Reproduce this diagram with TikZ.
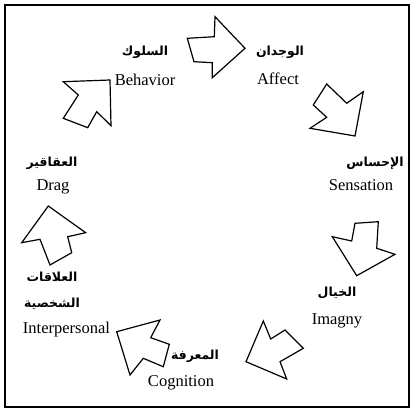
\documentclass[tikz,border=0pt]{standalone}
\usepackage{fontspec}
\setmainfont{Liberation Serif}
\newfontfamily\arabicfont[Script=Arabic]{DejaVu Sans}
\TeXXeTstate=1
\begin{document}
\begin{tikzpicture}[x=1pt,y=-1pt,
  arr/.style={draw=black,line width=1.2pt,line join=miter,fill=white},
  en/.style={font=\fontsize{16.5}{17}\selectfont,inner sep=0pt},
  ar/.style={font=\arabicfont\bfseries\fontsize{12.5}{13}\selectfont,inner sep=0pt}]
\useasboundingbox (0,0) rectangle (410,409);
\draw[line width=1.2pt] (5,5) -- (409,5) -- (409,407) -- (5,407) -- cycle;
% arrows
\draw[arr] (187.3,38.3) -- (214.3,36.7) -- (215,16.7) -- (245,48.3) -- (212.3,77.7) -- (212.3,62.7) -- (194,61.7) -- cycle;
\draw[arr] (326.7,84) -- (346.7,103.3) -- (363.3,91.7) -- (355,136) -- (310,128.3) -- (326.7,117.3) -- (313.3,105) -- cycle;
\draw[arr] (355,223.3) -- (378.3,221.7) -- (376.7,248.3) -- (395,254.3) -- (356.7,275.7) -- (332.3,236.7) -- (351.7,241) -- cycle;
\draw[arr] (285,330) -- (303.3,348.3) -- (280,361.7) -- (286.7,379) -- (246,361.7) -- (263.3,321) -- (270.7,339) -- cycle;
\draw[arr] (116.7,331.7) -- (160,320) -- (150.7,337.7) -- (169.3,344.3) -- (163.3,366.7) -- (143.3,358.3) -- (130,375) -- cycle;
\draw[arr] (48.3,206) -- (85.7,232.7) -- (67.7,236.7) -- (71.7,252.7) -- (50,265) -- (40,239.3) -- (21.7,242.7) -- cycle;
\draw[arr] (110,80) -- (111,125.7) -- (96.7,111.7) -- (87.7,127.7) -- (63.3,118.3) -- (78.3,95) -- (63.3,81.7) -- cycle;
% labels
\node[ar] (behA) at (145,52) {\beginR السلوك\endR};
\node[en] (behE) at (145,80) {Behavior};
\node[ar] (affA) at (280,52) {\beginR الوجدان\endR};
\node[en] (affE) at (278,79) {Affect};
\node[ar] (senA) at (375,163) {\beginR الإحساس\endR};
\node[en] (senE) at (361,185) {Sensation};
\node[ar] (druA) at (52,163) {\beginR العقاقير\endR};
\node[en] (druE) at (53,187) {Drag};
\node[ar] (imaA) at (337,293) {\beginR الخيال\endR};
\node[en] (imaE) at (337,321) {Imagny};
\node[ar] (cogA) at (195,356) {\beginR المعرفة\endR};
\node[en] (cogE) at (181,383) {Cognition};
\node[ar] (intA1) at (52,277) {\beginR العلاقات\endR};
\node[ar] (intA2) at (52,304) {\beginR الشخصية\endR};
\node[en] (intE) at (66.5,330) {Interpersonal};
\end{tikzpicture}
\end{document}
